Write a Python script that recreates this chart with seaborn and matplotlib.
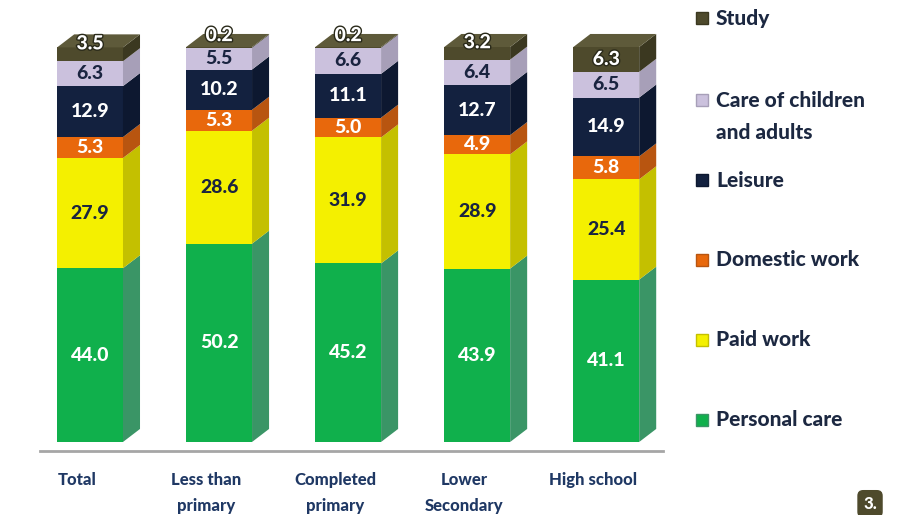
import numpy as np
import pandas as pd
import matplotlib
matplotlib.use("Agg")
import matplotlib.pyplot as plt
import matplotlib.patheffects as pe
import matplotlib.transforms as mtransforms
from matplotlib.patches import Polygon, Rectangle
import seaborn as sns

# data
categories = ["Total", "Less than\nprimary", "Completed\nprimary", "Lower\nSecondary", "High school"]
activities = ["Personal care", "Paid work", "Domestic work", "Leisure",
              "Care of children\nand adults", "Study"]
personal_care = [44.0, 50.2, 45.2, 43.9, 41.1]
paid_work = [27.9, 28.6, 31.9, 28.9, 25.4]
domestic_work = [5.3, 5.3, 5.0, 4.9, 5.8]
leisure = [12.9, 10.2, 11.1, 12.7, 14.9]
care = [6.3, 5.5, 6.6, 6.4, 6.5]
study = [3.5, 0.2, 0.2, 3.2, 6.3]

front = ["#10b04c", "#f4f000", "#e8680c", "#13213f", "#cbc1dd", "#4e4a2c"]
side = ["#3a9566", "#c4c000", "#b85510", "#0d1830", "#a79fb8", "#3b3820"]
cap = "#5e5a3a"
txt_col = ["white", "#1a2440", "white", "white", "#1a2440", "white"]

sns.set_theme(style="white")
plt.rcParams["font.family"] = ["Lato", "DejaVu Sans"]

values = np.array([personal_care, paid_work, domestic_work, leisure, care, study])
tops = values.cumsum(axis=0)
bottoms = tops - values

fig = plt.figure(figsize=(9.01, 5.15), dpi=100)
ax = fig.add_axes([0.0444, 0.1243, 0.6915, 0.8757])

bw = 0.51
# stacked bars: draw cumulative totals from the top layer down
for i in reversed(range(len(activities))):
    sns.barplot(x=categories, y=tops[i], color=front[i], saturation=1,
                width=bw, ax=ax, linewidth=0)

# 3d side faces and top cap
dx, dy = 0.132, 3.3
for j in range(len(categories)):
    x0 = j - bw / 2
    x1 = j + bw / 2
    for i in range(len(activities)):
        b, t = bottoms[i, j], tops[i, j]
        ax.add_patch(Polygon([(x1, b), (x1 + dx, b + dy), (x1 + dx, t + dy), (x1, t)],
                             closed=True, facecolor=side[i], edgecolor="none", zorder=3))
    T = tops[-1, j]
    ax.add_patch(Polygon([(x0, T), (x0 + dx, T + dy), (x1 + dx, T + dy), (x1, T)],
                         closed=True, facecolor=cap, edgecolor="none", zorder=3))

# value labels
for j in range(len(categories)):
    for i in range(len(activities)):
        v = values[i, j]
        y = (bottoms[i, j] + tops[i, j]) / 2
        if i == len(activities) - 1 and v < 5:
            y = tops[i, j] + (5 - v) * 0.6
        t = ax.text(j, y, f"{v:.1f}", ha="center", va="center", fontsize=14,
                    fontweight="black", color=txt_col[i], zorder=5)
        if i == len(activities) - 1:
            t.set_path_effects([pe.withStroke(linewidth=2, foreground="#2a2a1a")])

ax.set_xlim(-0.388, 4.44)
ax.set_ylim(-2.28, 111.9)
ax.set_yticks([])
ax.set_ylabel("")
sns.despine(ax=ax, left=True)
ax.spines["bottom"].set_color("#a6a6a6")
ax.spines["bottom"].set_linewidth(2)
ax.tick_params(axis="x", length=0, pad=15)
shift = mtransforms.ScaledTranslation(-13 / 100, 0, fig.dpi_scale_trans)
for lbl in ax.get_xticklabels():
    lbl.set_fontsize(12)
    lbl.set_fontweight("black")
    lbl.set_color("#1f3864")
    lbl.set_linespacing(1.75)
    lbl.set_transform(lbl.get_transform() + shift)

# legend (drawn by hand, top to bottom)
leg_y = [18, 100, 180, 260, 340, 420]
for i, name in enumerate(activities):
    yy = 1 - leg_y[len(activities) - 1 - i] / 515
    fig.add_artist(Rectangle((696 / 901, yy - 6 / 515), 12 / 901, 12 / 515,
                             transform=fig.transFigure, facecolor=front[i],
                             edgecolor=side[i], linewidth=1))
    if "\n" in name:
        fig.text(716 / 901, yy + 9 / 515, name, ha="left", va="top",
                 fontsize=15, fontweight="black", color="#1c2841", linespacing=1.8)
    else:
        fig.text(716 / 901, yy, name, ha="left", va="center",
                 fontsize=15, fontweight="black", color="#1c2841")

fig.text(0.958, 0.012, "3.", fontsize=12, fontweight="black", color="white",
         bbox=dict(boxstyle="round,pad=0.35", facecolor="#4e4a2c", edgecolor="none"))

fig.savefig("out.png", dpi=100)
